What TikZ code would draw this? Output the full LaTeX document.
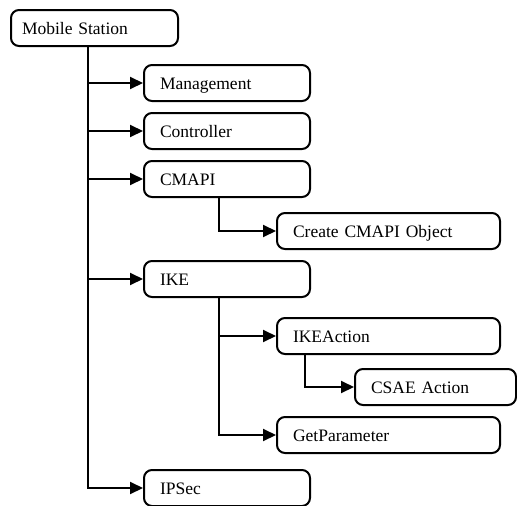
\documentclass[tikz,border=0pt]{standalone}
\usepackage{fontspec}
\setmainfont{Liberation Serif}
\usetikzlibrary{arrows.meta}
\begin{document}
\begin{tikzpicture}[x=1pt, y=-1pt,
  box/.style={draw, rounded corners=8pt, line width=2pt, anchor=north west,
    minimum height=36pt, inner xsep=16pt, inner ysep=0pt, align=left,
    text height=17pt, text depth=4pt,
    font=\fontsize{17.5}{20}\selectfont},
  arr/.style={-{Triangle[length=13pt,width=12pt]}, line width=2pt}]
\useasboundingbox (0,0) rectangle (517,506);

% tree nodes
\node[box, inner xsep=11pt, text width=145pt] (ms)   at (10,9)   {Mobile Station};
\node[box, text width=134pt] (mg)   at (143,64)  {Management};
\node[box, text width=134pt] (ct)   at (143,112) {Controller};
\node[box, text width=134pt] (cm)   at (143,160) {CMAPI};
\node[box, text width=191pt] (cc)   at (276,212) {Create CMAPI Object};
\node[box, text width=134pt] (ike)  at (143,260) {IKE};
\node[box, text width=191pt] (ika)  at (276,317) {IKEAction};
\node[box, text width=129pt] (csae) at (354,368) {CSAE Action};
\node[box, text width=191pt] (gp)   at (276,416) {GetParameter};
\node[box, text width=134pt] (ips)  at (143,469) {IPSec};

% branch columns
\coordinate (trunk) at (88,0);
\coordinate (colA)  at (219,0);
\coordinate (colB)  at (305,0);

% main trunk
\draw[arr] (ms.south -| trunk) |- (ips.west);
\foreach \n in {mg, ct, cm, ike}
  \draw[arr] (trunk |- \n.west) -- (\n.west);

% CMAPI branch
\draw[arr] (cm.south -| colA) |- (cc.west);

% IKE branch
\draw[arr] (ike.south -| colA) |- (gp.west);
\draw[arr] (colA |- ika.west) -- (ika.west);

% IKEAction branch
\draw[arr] (ika.south -| colB) |- (csae.west);
\end{tikzpicture}
\end{document}
